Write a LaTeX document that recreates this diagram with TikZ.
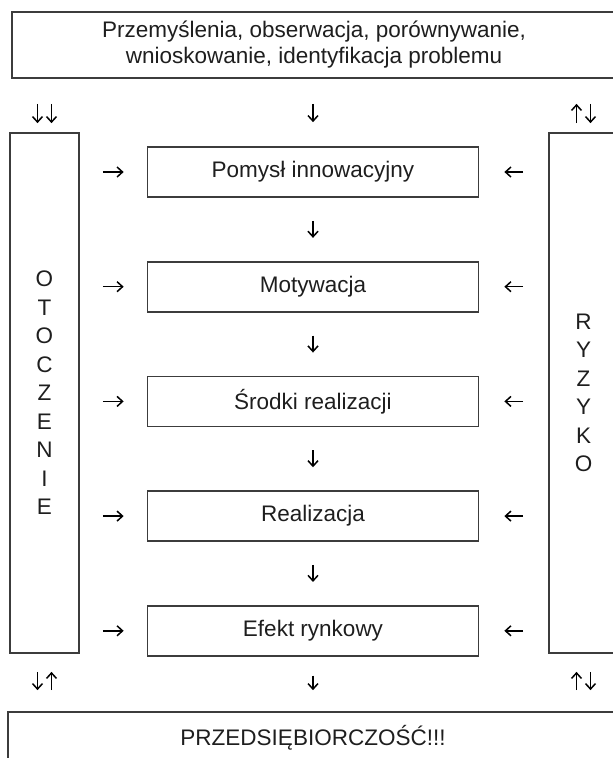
\documentclass[tikz,border=0pt]{standalone}
\usepackage{fontspec}
\setmainfont{Liberation Sans}
\definecolor{ink}{RGB}{30, 30, 30}
\definecolor{frame}{RGB}{60, 60, 60}
\usetikzlibrary{positioning,arrows.meta}

\begin{document}
\begin{tikzpicture}[
    x=1pt, y=-1pt,
    node distance=63pt and 69pt,
    box/.style={draw=frame, line width=1.7pt, minimum width=331pt, minimum height=50pt, align=center, text=ink, font=\fontsize{22.5}{26}\selectfont},
    side/.style={box, minimum width=69pt, minimum height=520pt, font=\fontsize{22.5}{28.5}\selectfont},
    arr/.style={-{Straight Barb[length=5.5pt,width=10pt]}, line width=1.5pt, color=black}
  ]
    \useasboundingbox (0,0) rectangle (613,758);

    \node[box, minimum width=604pt, minimum height=66pt] (start) at (314,45) {Przemyślenia, obserwacja, porównywanie,\\ wnioskowanie, identyfikacja problemu};
    \node[box] (pomysl) at (313,172) {Pomysł innowacyjny};
    \node[box, below=of pomysl] (motyw) {Motywacja};
    \node[box, below=of motyw] (srodki) {Środki realizacji};
    \node[box, below=of srodki] (realiz) {Realizacja};
    \node[box, below=of realiz] (efekt) {Efekt rynkowy};
    \node[side] (otocz) at (44.5,393) {O\\T\\O\\C\\Z\\E\\N\\I\\E};
    \node[side] (ryzyko) at (583.5,393) {R\\Y\\Z\\Y\\K\\O};
    \node[box, minimum width=610pt, minimum height=52pt] (przeds) at (313,738) {PRZEDSIĘBIORCZOŚĆ!!!};

    \draw[arr, shorten <=25pt, shorten >=24pt] (start.south -| pomysl.north) -- (pomysl.north);
    \foreach \a/\b in {pomysl/motyw, motyw/srodki, srodki/realiz, realiz/efekt}
      \draw[arr, shorten <=23pt, shorten >=23pt] (\a.south) -- (\b.north);
    \draw[arr, shorten <=19pt, shorten >=21pt] (efekt.south) -- (efekt.south |- przeds.north);

    \foreach \n in {pomysl, motyw, srodki, realiz, efekt} {
      \draw[arr, shorten <=23pt, shorten >=23pt] (otocz.east |- \n.west) -- (\n.west);
      \draw[arr, shorten <=25pt, shorten >=25pt] (ryzyko.west |- \n.east) -- (\n.east);
    }

    \draw[arr, shorten <=25pt, shorten >=9pt] ([xshift=-7pt]otocz.north |- start.south) -- ([xshift=-7pt]otocz.north);
    \draw[arr, shorten <=25pt, shorten >=9pt] ([xshift=7pt]otocz.north |- start.south) -- ([xshift=7pt]otocz.north);
    \draw[arr, shorten <=9pt, shorten >=25pt] ([xshift=-7pt]ryzyko.north) -- ([xshift=-7pt]ryzyko.north |- start.south);
    \draw[arr, shorten <=25pt, shorten >=9pt] ([xshift=7pt]ryzyko.north |- start.south) -- ([xshift=7pt]ryzyko.north);

    \draw[arr, shorten <=18pt, shorten >=21pt] ([xshift=-7pt]otocz.south) -- ([xshift=-7pt]otocz.south |- przeds.north);
    \draw[arr, shorten <=21pt, shorten >=18pt] ([xshift=7pt]otocz.south |- przeds.north) -- ([xshift=7pt]otocz.south);
    \draw[arr, shorten <=21pt, shorten >=18pt] ([xshift=-7pt]ryzyko.south |- przeds.north) -- ([xshift=-7pt]ryzyko.south);
    \draw[arr, shorten <=18pt, shorten >=21pt] ([xshift=7pt]ryzyko.south) -- ([xshift=7pt]ryzyko.south |- przeds.north);
  \end{tikzpicture}
\end{document}
